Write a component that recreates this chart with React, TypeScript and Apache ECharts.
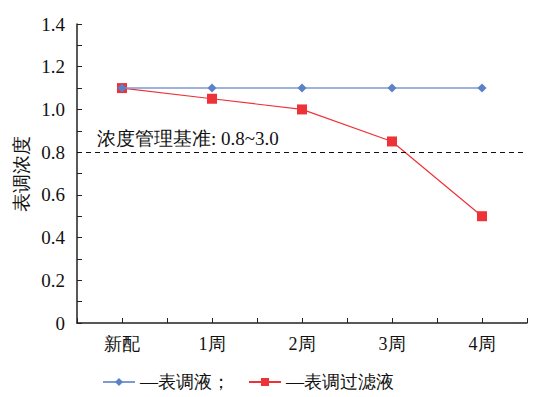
import React, { useEffect, useRef } from "react";
import * as echarts from "echarts";

const categories = ["新配", "1周", "2周", "3周", "4周"];
const seriesNames = ["—表调液；", "—表调过滤液"];
const bathValues = [1.1, 1.1, 1.1, 1.1, 1.1];
const filteredValues = [1.1, 1.05, 1.0, 0.85, 0.5];
const standardLine = 0.8;
const standardLabel = "浓度管理基准: 0.8~3.0";
const yAxisName = "表调浓度";

const FONT = "Liberation Serif, DejaVu Serif, serif";

export default function App() {
  const ref = useRef<HTMLDivElement>(null);
  useEffect(() => {
    if (!ref.current) return;
    const chart = echarts.init(ref.current, undefined, { renderer: "svg" });
    const toPairs = (arr: number[]) => arr.map((v, i) => [i, v]);
    chart.setOption({
      animation: false,
      textStyle: { fontFamily: FONT },
      grid: { left: 77, right: 14, top: 24, bottom: 74 },
      legend: {
        left: 97,
        top: 368,
        itemWidth: 32,
        itemHeight: 10,
        itemGap: 18,
        textStyle: { fontFamily: FONT, fontSize: 18, color: "#111" },
        data: [seriesNames[0], seriesNames[1]],
      },
      xAxis: {
        type: "value",
        min: -0.5,
        max: 4.5,
        interval: 0.5,
        splitLine: { show: false },
        axisLine: { show: true, onZero: false, lineStyle: { color: "#222", width: 1.5 } },
        axisTick: { show: true, inside: true, length: 5, lineStyle: { color: "#222" } },
        axisLabel: {
          margin: 12,
          fontSize: 18,
          color: "#111",
          fontFamily: FONT,
          formatter: (v: number) => {
            const r = Math.round(v);
            return Math.abs(v - r) < 1e-6 && r >= 0 && r < categories.length ? categories[r] : "";
          },
        },
      },
      yAxis: {
        type: "value",
        min: 0,
        max: 1.4,
        interval: 0.2,
        name: yAxisName,
        nameLocation: "middle",
        nameRotate: 90,
        nameGap: 46,
        nameMoveOverlap: false,
        nameTextStyle: { fontSize: 19, color: "#111", fontFamily: FONT },
        splitLine: { show: false },
        axisLine: { show: true, onZero: false, lineStyle: { color: "#222", width: 1.5 } },
        axisTick: { show: true, inside: true, length: 5, lineStyle: { color: "#222" } },
        minorTick: { show: true, splitNumber: 2, length: 5, lineStyle: { color: "#222" } },
        axisLabel: {
          margin: 12,
          fontSize: 19,
          color: "#111",
          fontFamily: FONT,
          formatter: (v: number) => (v === 0 ? "0" : v.toFixed(1)),
        },
      },
      series: [
        {
          name: seriesNames[0],
          type: "line",
          data: toPairs(bathValues),
          symbol: "diamond",
          symbolSize: 9,
          itemStyle: { color: "#5b82c8" },
          lineStyle: { color: "#7d9bd3", width: 1.5 },
          z: 3,
          markLine: {
            silent: true,
            symbol: "none",
            lineStyle: { color: "#111", type: [5, 4], width: 1 },
            label: {
              show: true,
              position: "insideStartTop",
              formatter: standardLabel,
              fontSize: 19,
              color: "#111",
              fontFamily: FONT,
              distance: [20, 4],
            },
            data: [{ yAxis: standardLine }],
          },
        },
        {
          name: seriesNames[1],
          type: "line",
          data: toPairs(filteredValues),
          symbol: "rect",
          symbolSize: 10,
          itemStyle: { color: "#ee3338" },
          lineStyle: { color: "#ee3338", width: 1.2 },
          z: 2,
        },
      ],
    });
    return () => chart.dispose();
  }, []);
  return <div ref={ref} style={{ width: 541, height: 397, position: "absolute", left: 0, top: 0 }} />;
}
